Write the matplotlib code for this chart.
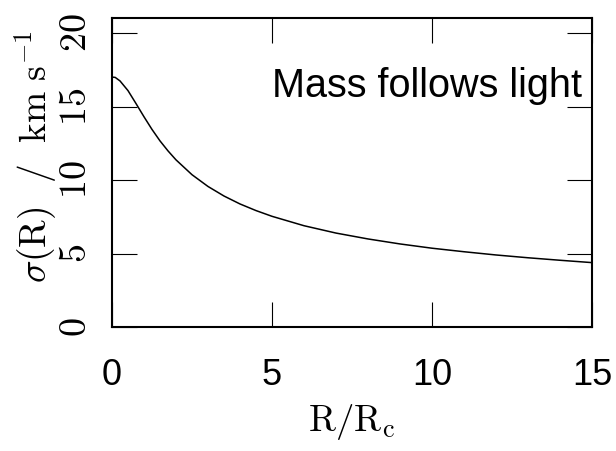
import numpy as np
import matplotlib
matplotlib.use("Agg")
import matplotlib.pyplot as plt
from matplotlib.ticker import FuncFormatter

plt.rcParams['mathtext.fontset'] = 'cm'

# velocity dispersion profile
r_rc = [0.0, 0.1, 0.25, 0.5, 0.75, 1.0, 1.25, 1.5, 1.75, 2.0, 2.5, 3.0, 3.5, 4.0,
        4.5, 5.0, 6.0, 7.0, 8.0, 9.0, 10.0, 11.0, 12.0, 13.0, 14.0, 15.0]
sigma = [17.0, 16.98, 16.74, 16.08, 15.2, 14.3, 13.44, 12.66, 11.98, 11.37, 10.36,
         9.56, 8.91, 8.37, 7.92, 7.53, 6.89, 6.39, 5.99, 5.65, 5.36, 5.12, 4.90,
         4.71, 4.54, 4.38]

xticks = [0, 5, 10, 15]
yticks = [0, 5, 10, 15, 20]
label = "Mass follows light"

fig = plt.figure(figsize=(6.16, 4.51), dpi=100)
ax = fig.add_axes([112/616, 1 - 327/451, 480/616, 308.7/451])

ax.plot(r_rc, sigma, color='black', lw=1.1)

ax.set_xlim(0, 15)
ax.set_ylim(0, 21)
ax.set_xticks(xticks)
ax.set_yticks(yticks)

for s in ax.spines.values():
    s.set_linewidth(1.5)

ax.tick_params(direction='in', length=18, width=0.8, top=True, right=True)
ax.tick_params(axis='x', pad=22)
ax.tick_params(axis='y', pad=13)

for t in ax.get_xticklabels():
    t.set_fontfamily('Liberation Sans')
    t.set_fontsize(26)

ax.yaxis.set_major_formatter(FuncFormatter(lambda v, p: r'$%d$' % v))
for t in ax.get_yticklabels():
    t.set_fontsize(27.5)
    t.set_rotation(90)
    t.set_va('center')

ax.set_xlabel(r'$\mathrm{R/R_c}$', fontsize=26.5, labelpad=7)
fig.text(36/616, 1 - 157/451, r'$\sigma\mathrm{(R)}\ \ /\ \ \mathrm{km\ s^{-1}}$',
         rotation=90, ha='center', va='center', fontsize=27)

ax.text(0.979, 0.745, label, transform=ax.transAxes, ha='right', va='baseline',
        fontsize=28.5, family='Liberation Sans')

fig.savefig('out.png', dpi=100)
